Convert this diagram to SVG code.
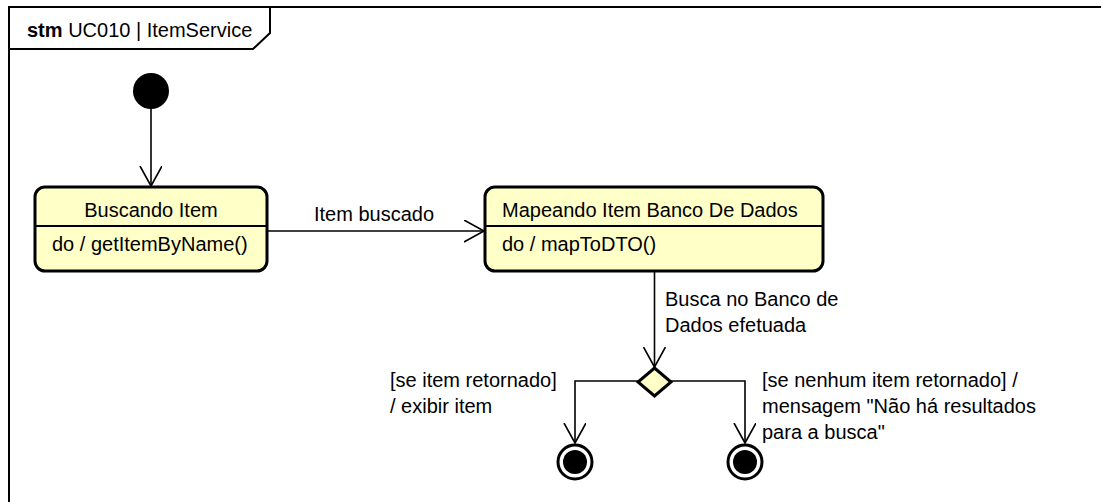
<svg xmlns="http://www.w3.org/2000/svg" width="1101" height="502" viewBox="0 0 1101 502">
<style>
text{font-family:"Liberation Sans",Arial,sans-serif;font-size:20px;fill:#000}
.state{fill:#FFFFC8;stroke:#000;stroke-width:3}
.div{stroke:#000;stroke-width:2}
.edge{fill:none;stroke:#000;stroke-width:1.6}
.frame{fill:none;stroke:#000;stroke-width:2}
</style>
<defs>
<marker id="open" markerWidth="24" markerHeight="26" refX="20" refY="11" orient="auto" markerUnits="userSpaceOnUse">
<path d="M0,0 L20,11 L0,22" fill="none" stroke="#000" stroke-width="1.6"/>
</marker>
</defs>
<rect width="1101" height="502" fill="#fff"/>
<g id="frame">
<path class="frame" d="M9,520 L9,7 L1110,7"/>
<path class="frame" d="M9,49 L253,49 L270,33 L270,7"/>
<text x="27" y="37"><tspan font-weight="bold">stm</tspan> UC010 | ItemService</text>
</g>
<g id="initial">
<circle cx="151" cy="91" r="18" fill="#000"/>
</g>
<g id="buscando">
<rect class="state" x="35" y="187" width="232" height="84" rx="10"/>
<line class="div" x1="36" y1="226" x2="266" y2="226"/>
<text x="151" y="217" text-anchor="middle">Buscando Item</text>
<text x="52" y="251">do / getItemByName()</text>
</g>
<g id="mapeando">
<rect class="state" x="485" y="187" width="338" height="84" rx="10"/>
<line class="div" x1="486" y1="226" x2="822" y2="226"/>
<text x="502" y="217">Mapeando Item Banco De Dados</text>
<text x="502" y="251">do / mapToDTO()</text>
</g>
<g id="decision">
<polygon points="654.5,368 671,382 654.5,396 638,382" fill="#FFFFC8" stroke="#000" stroke-width="3"/>
</g>
<g id="final1">
<circle cx="575" cy="462" r="17" fill="#fff" stroke="#000" stroke-width="3"/>
<circle cx="575" cy="462" r="12" fill="#000"/>
</g>
<g id="final2">
<circle cx="745" cy="462" r="17" fill="#fff" stroke="#000" stroke-width="3"/>
<circle cx="745" cy="462" r="12" fill="#000"/>
</g>
<g id="connectors">
<path class="edge" d="M151,109 L151,186" marker-end="url(#open)"/>
<path class="edge" d="M267,231 L484,231" marker-end="url(#open)"/>
<path class="edge" d="M654.5,272 L654.5,367" marker-end="url(#open)"/>
<path class="edge" d="M638,381 L575,381 L575,443" marker-end="url(#open)"/>
<path class="edge" d="M671,381 L745,381 L745,443" marker-end="url(#open)"/>
</g>
<g id="labels">
<text x="314" y="221">Item buscado</text>
<text x="665" y="306">Busca no Banco de</text>
<text x="665" y="332">Dados efetuada</text>
<text x="390" y="387">[se item retornado]</text>
<text x="390" y="413">/ exibir item</text>
<text x="762" y="387">[se nenhum item retornado] /</text>
<text x="762" y="413">mensagem "Não há resultados</text>
<text x="762" y="439">para a busca"</text>
</g>
</svg>
